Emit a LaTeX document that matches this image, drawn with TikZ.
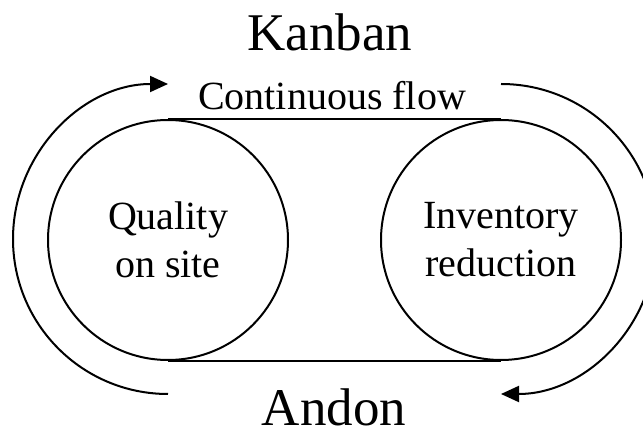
\documentclass[tikz,border=0pt]{standalone}
\usepackage{fontspec}
\setmainfont{Liberation Serif}
\usetikzlibrary{positioning,arrows.meta}

\begin{document}
\begin{tikzpicture}[x=1pt,y=-1pt,>={Triangle[length=18pt,width=16pt]},
   line width=2pt,
   ring/.style={draw, circle, minimum size=240pt, inner sep=0pt, align=center,
                font=\fontsize{40}{48}\selectfont},
   big/.style={font=\fontsize{53}{60}\selectfont, anchor=base, inner sep=0pt},
   mid/.style={font=\fontsize{40}{48}\selectfont, anchor=base, inner sep=0pt}]
  \clip (0,0) rectangle (643,430);
  \node[ring] (qual) at (168,240) {Quality\\on site};
  \node[ring] (inv) at (501,240) {Inventory\\reduction};
  \draw (qual.north) -- (inv.north);
  \draw (qual.south) -- (inv.south);
  \node[big] (kanban) at (330,51) {Kanban};
  \node[mid] (flow) at (332,110) {Continuous flow};
  \node[big] (andon) at (334,425) {Andon};
  % feedback loops
  \coordinate (lbot) at (168,394);
  \coordinate (rtop) at (501,84);
  \draw[->] (lbot) arc[start angle=90, end angle=270, radius=155];
  \draw[->] (rtop) arc[start angle=-90, end angle=90, radius=155];
\end{tikzpicture}
\end{document}
